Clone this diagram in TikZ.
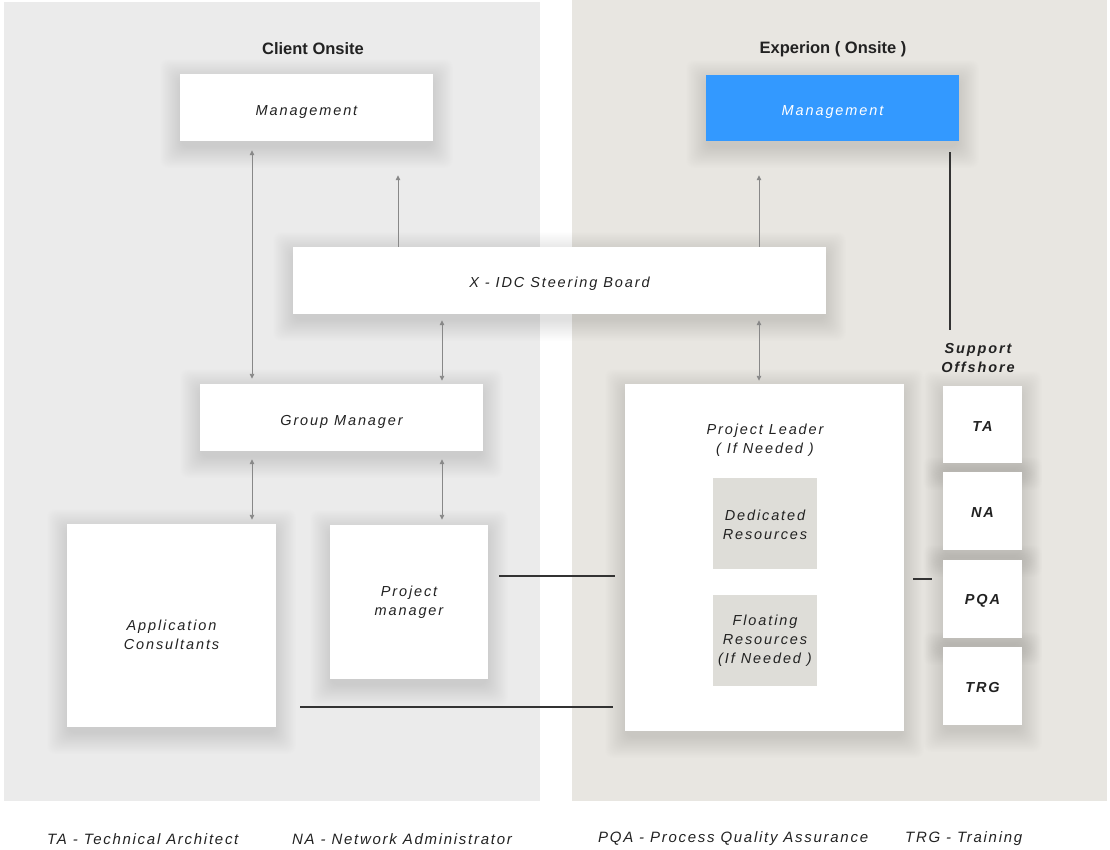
\documentclass[tikz,border=0pt]{standalone}
\usepackage{fontspec}
\setmainfont{Liberation Sans}
\newfontfamily\labfont[LetterSpace=13]{Liberation Sans}
\newfontfamily\legfont[LetterSpace=11.5]{Liberation Sans}
\usetikzlibrary{arrows.meta}
\definecolor{leftbg}{HTML}{EBEBEB}
\definecolor{rightbg}{HTML}{E8E6E1}
\definecolor{blueb}{HTML}{3399FF}
\definecolor{subb}{HTML}{DEDDD8}
\definecolor{txt}{HTML}{222222}
\definecolor{arrg}{HTML}{888888}
\definecolor{darkl}{HTML}{333333}
\pgfdeclarelayer{bgl}
\pgfdeclarelayer{shd}
\pgfsetlayers{bgl,shd,main}
\newcommand\softshadow[1]{%
  \begin{pgfonlayer}{shd}
  \foreach \d in {0,0.7,...,21}{
    \fill[black,fill opacity=0.0046,rounded corners=8pt]
      ([shift={(-20+\d,-27+\d)}]#1.south west) rectangle ([shift={(20-\d,15-\d)}]#1.north east);
  }
  \end{pgfonlayer}}
\tikzset{
  lfont/.style={font=\labfont\itshape\fontsize{14.5}{19}\selectfont},
  bfont/.style={font=\labfont\bfseries\itshape\fontsize{14.5}{19}\selectfont},
  tdown/.style={execute at begin node={\rule{0pt}{#1}}},
  wbox/.style={fill=white, inner sep=0pt, align=center, text=txt, lfont},
  sbox/.style={fill=subb, inner sep=0pt, align=center, text=txt, lfont},
  lab/.style={inner sep=0pt, align=center, text=txt, lfont},
  blab/.style={inner sep=0pt, align=center, text=txt, bfont},
  title/.style={inner sep=0pt, text=txt, font=\bfseries\fontsize{16.5}{20}\selectfont},
  legend/.style={inner sep=0pt, anchor=west, text=txt, font=\legfont\itshape\fontsize{15}{19}\selectfont},
  dbl/.style={draw=arrg, line width=0.9pt, {Triangle[width=4.5pt,length=5pt]}-{Triangle[width=4.5pt,length=5pt]}},
  sgl/.style={draw=arrg, line width=0.9pt, -{Triangle[width=4.5pt,length=5pt]}},
  plain/.style={draw=darkl, line width=1.2pt}
}
\begin{document}
\begin{tikzpicture}[x=1pt,y=1pt]
\useasboundingbox (0,0) rectangle (1110,-849);
\begin{pgfonlayer}{bgl}
\fill[leftbg] (4,-2) rectangle (540,-801);
\fill[rightbg] (572,0) rectangle (1107,-801);
\end{pgfonlayer}

\node[title] (t1) at (313,-49) {Client Onsite};
\node[title] (t2) at (833,-49) {Experion ( Onsite )};

\node[wbox, tdown=18.6pt, minimum width=253pt, minimum height=67pt] (cm) at (306.5,-107.5) {Management};
\node[wbox, tdown=18.6pt, fill=blueb, text=white, minimum width=253pt, minimum height=66pt] (em) at (832.5,-108) {Management};
\node[wbox, tdown=16.6pt, minimum width=533pt, minimum height=67pt] (sb) at (559.5,-280.5) {X - IDC Steering Board};
\node[wbox, tdown=19.6pt, minimum width=283pt, minimum height=67pt] (gm) at (341.5,-417.5) {Group Manager};
\node[wbox, minimum width=209pt, minimum height=203pt] (ac) at (171.5,-625.5) {\rule{0pt}{28.6pt}Application\\Consultants};
\node[wbox, minimum width=158pt, minimum height=154pt] (pm) at (409,-602) {Project\\manager};
\node[wbox, minimum width=279pt, minimum height=347pt] (pl) at (764.5,-557.5) {};
\node[lab] (plt) at (765,-438) {\rule{0pt}{14.6pt}Project Leader\\( If Needed )};
\node[sbox, minimum width=104pt, minimum height=91pt] (dr) at (765,-523.5) {\rule{0pt}{12.6pt}Dedicated\\Resources};
\node[sbox, minimum width=104pt, minimum height=91pt] (fr) at (765,-640.5) {Floating\\Resources\\(If Needed )};

\node[blab] (so) at (978,-357) {\rule{0pt}{12.6pt}Support\\Offshore};
\node[wbox, bfont, tdown=13.6pt, minimum width=79pt, minimum height=77pt] (ta) at (982.5,-424.5) {TA};
\node[wbox, bfont, tdown=13.6pt, minimum width=79pt, minimum height=78pt] (na) at (982.5,-511) {NA};
\node[wbox, bfont, tdown=13.6pt, minimum width=79pt, minimum height=78pt] (pqa) at (982.5,-599) {PQA};
\node[wbox, bfont, tdown=13.6pt, minimum width=79pt, minimum height=78pt] (trg) at (982.5,-686) {TRG};

\softshadow{cm}
\softshadow{em}
\softshadow{sb}
\softshadow{gm}
\softshadow{ac}
\softshadow{pm}
\softshadow{pl}
\softshadow{ta}
\softshadow{na}
\softshadow{pqa}
\softshadow{trg}

% connectors
\draw[dbl] ([shift={(-54.5,-9)}]cm.south) -- ([shift={(-89.5,5)}]gm.north);
\draw[sgl] ([xshift=-161.5]sb.north) -- ([shift={(91.5,-34)}]cm.south);
\draw[dbl] ([shift={(-117.5,-6)}]sb.south) -- ([shift={(100.5,3)}]gm.north);
\draw[dbl] ([shift={(-89.5,-8)}]gm.south) -- ([shift={(80.5,4)}]ac.north);
\draw[dbl] ([shift={(100.5,-8)}]gm.south) -- ([shift={(33,5)}]pm.north);
\draw[sgl] ([xshift=199.5]sb.north) -- ([shift={(-73.5,-34)}]em.south);
\draw[dbl] ([shift={(199.5,-6)}]sb.south) -- ([shift={(-5.5,3)}]pl.north);
\draw[plain] ([shift={(117.5,-11)}]em.south) -- ([shift={(-28,11)}]so.north);
\draw[plain] ([shift={(11,26)}]pm.east) -- ([shift={(-10,-18.5)}]pl.west);
\draw[plain] ([shift={(24,-81.5)}]ac.east) -- ([shift={(-12,-149.5)}]pl.west);
\draw[plain] ([shift={(9,-21.5)}]pl.east) -- ([shift={(-11,20)}]pqa.west);

% legend
\node[legend] (l1) at (47,-839) {TA - Technical Architect};
\node[legend] (l2) at (292,-839) {NA - Network Administrator};
\node[legend] (l3) at (598,-839) {PQA - Process Quality Assurance};
\node[legend] (l4) at (905,-839) {TRG - Training};
\end{tikzpicture}
\end{document}
